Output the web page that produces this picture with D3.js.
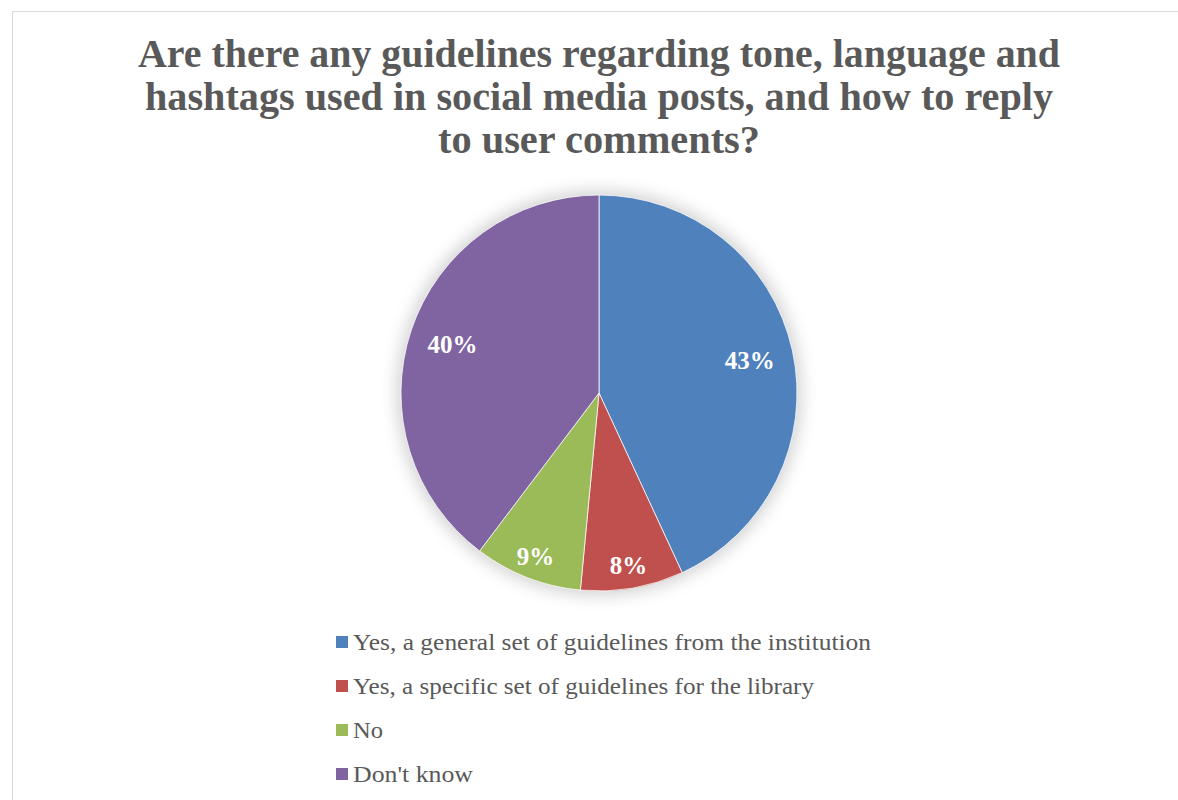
<!DOCTYPE html>
<html>
<head>
<meta charset="utf-8">
<script src="https://cdn.jsdelivr.net/npm/d3@7"></script>
<style>
	body { margin: 0; background: #fff; }
	svg { display: block; }
</style>
</head>
<body>
<svg id="chart" width="1178" height="800"></svg>
<script>
const categories = [
	'Yes, a general set of guidelines from the institution',
	'Yes, a specific set of guidelines for the library',
	'No',
	"Don't know"
];
const values = [43.1, 8.4, 8.8, 39.7];
const colors = ['#4F81BD', '#C0504D', '#9BBB59', '#8064A2'];
const titleLines = [
	'Are there any guidelines regarding tone, language and',
	'hashtags used in social media posts, and how to reply',
	'to user comments?'
];

const width = 1178, height = 800;
const cx = 599, cy = 393, radius = 198;
const svg = d3.select('#chart');

// frame of the chart area
svg.append('path')
	.attr('d', `M12.5,${height} V11.5 H${width}`)
	.attr('fill', 'none')
	.attr('stroke', '#d9d9d9')
	.attr('stroke-width', 1);

// title
const titleWidths = [922, 908, 322];
svg.append('g').selectAll('text').data(titleLines).join('text')
	.attr('x', cx)
	.attr('y', (d, i) => 67 + i * 43)
	.attr('text-anchor', 'middle')
	.attr('textLength', (d, i) => titleWidths[i])
	.attr('lengthAdjust', 'spacingAndGlyphs')
	.style('font-family', '"Liberation Serif", "DejaVu Serif", serif')
	.style('font-weight', 'bold')
	.style('font-size', '41px')
	.style('fill', '#595959')
	.text(d => d);

// soft shadow round the pie
const defs = svg.append('defs');
defs.append('filter').attr('id', 'glow')
	.attr('x', '-20%').attr('y', '-20%').attr('width', '140%').attr('height', '140%')
	.append('feGaussianBlur').attr('stdDeviation', 9);

const g = svg.append('g').attr('transform', `translate(${cx},${cy})`);
g.append('circle')
	.attr('r', radius + 3)
	.attr('fill', '#000')
	.attr('opacity', 0.2)
	.attr('filter', 'url(#glow)');

const pie = d3.pie().sort(null).value(d => d);
const arcs = pie(values);
const arc = d3.arc().innerRadius(0).outerRadius(radius);

g.selectAll('path.slice').data(arcs).join('path')
	.attr('class', 'slice')
	.attr('d', arc)
	.attr('fill', (d, i) => colors[i])
	.attr('stroke', '#fff')
	.attr('stroke-width', 0.75);

// data labels, small slices pushed towards the rim
const total = d3.sum(values);
g.selectAll('text.label').data(arcs).join('text')
	.attr('class', 'label')
	.attr('transform', d => {
		const share = d.value / total;
		const r = share < 0.12 ? radius * 0.885 : radius * 0.78;
		const c = d3.arc().innerRadius(r).outerRadius(r).centroid(d);
		return `translate(${c[0]},${c[1]})`;
	})
	.attr('text-anchor', 'middle')
	.attr('dy', '0.35em')
	.style('font-family', '"Liberation Serif", "DejaVu Serif", serif')
	.style('font-weight', 'bold')
	.style('font-size', '25px')
	.style('fill', '#fff')
	.text(d => `${Math.round(d.value / total * 100)}%`);

// legend
const legendWidths = [518, 461, 30, 120];
const legend = svg.append('g').attr('transform', 'translate(336,642)');
const rows = legend.selectAll('g').data(categories).join('g')
	.attr('transform', (d, i) => `translate(0,${i * 44})`);
rows.append('rect')
	.attr('x', 0).attr('y', -6)
	.attr('width', 12).attr('height', 12)
	.attr('fill', (d, i) => colors[i]);
rows.append('text')
	.attr('x', 17)
	.attr('y', 8)
	.attr('textLength', (d, i) => legendWidths[i])
	.attr('lengthAdjust', 'spacingAndGlyphs')
	.style('font-family', '"Liberation Serif", "DejaVu Serif", serif')
	.style('font-size', '24px')
	.style('fill', '#595959')
	.text(d => d);
</script>
</body>
</html>
